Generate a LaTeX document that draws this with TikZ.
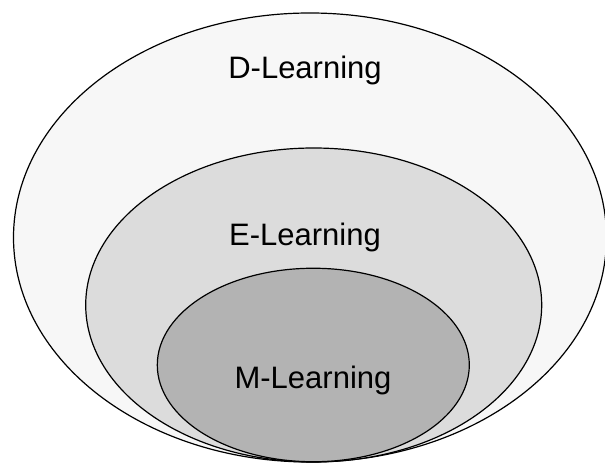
\documentclass[tikz,border=0pt]{standalone}
\usepackage{fontspec}
\setmainfont{Liberation Sans}
\usetikzlibrary{shapes.geometric}
\begin{document}
\begin{tikzpicture}[x=1pt,y=1pt,
  ring/.style={ellipse,draw=black,line width=1.2pt,inner sep=0pt,outer sep=0pt},
  lbl/.style={font=\fontsize{31}{35}\selectfont,inner sep=0pt}]
\useasboundingbox (0,0) rectangle (605,465);
\fill[white] (0,0) rectangle (605,465);
\node[ring,fill={rgb,255:red,247;green,247;blue,247},minimum width=593pt,minimum height=449pt] (D) at (310,227.5) {};
\node[ring,fill={rgb,255:red,220;green,220;blue,220},minimum width=456pt,minimum height=314pt] (E) at (313.7,160) {};
\node[ring,fill={rgb,255:red,179;green,179;blue,179},minimum width=312pt,minimum height=193.5pt] (M) at (313.3,100) {};
\node[lbl] (dl) at (305,395) {D-Learning};
\node[lbl] (el) at (305,228) {E-Learning};
\node[lbl] (ml) at (313,85) {M-Learning};
\end{tikzpicture}
\end{document}
